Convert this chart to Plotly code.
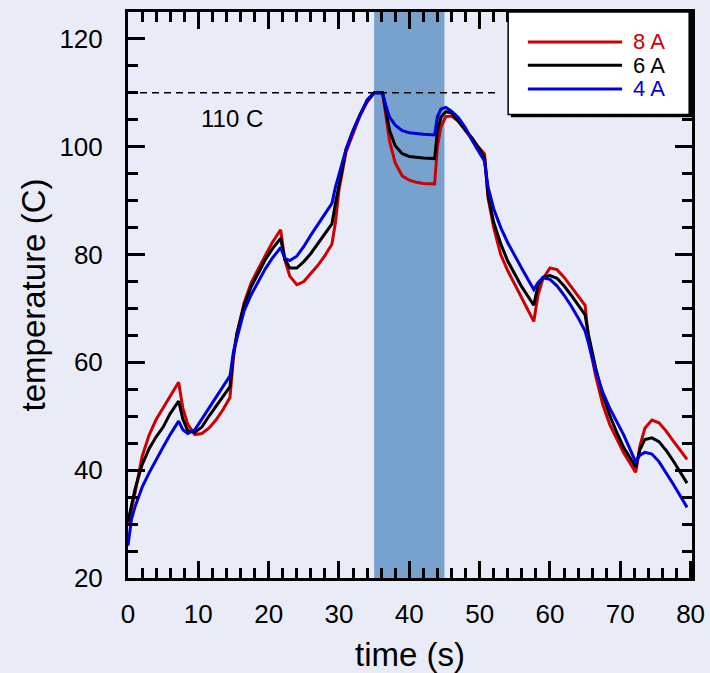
import plotly.graph_objects as go

# time (s)
t = [0, 0.5, 1, 2, 3, 4, 5, 6, 7.2, 7.8, 8.5, 9.5, 10.5, 11.5, 12.5, 13.5, 14.5,
     15, 15.5, 16.5, 17.5, 18.5, 19.5, 20.5, 21.7, 22.3, 23, 24, 25, 26, 27, 28, 29,
     29.5, 30, 31, 32, 33, 34, 35, 36.2, 36.7, 37.2, 38, 39, 40, 41, 42, 43.6,
     44, 44.5, 45.2, 46, 47, 48, 49, 50.7, 51.2, 52, 53, 54, 55, 56, 57.7,
     58.3, 59, 60, 61, 62, 63, 64, 65, 65.5, 66.5, 67.5, 68.5, 69.5, 70.5, 72.2,
     72.8, 73.5, 74.5, 75.5, 76.5, 77.5, 78.5, 79.5]

temp_8A = [30, 33, 35.8, 42.5, 46.5, 49.4, 51.5, 53.6, 56.3, 51.5, 48.5, 46.6, 46.8, 47.8, 49.3, 51.2, 53.5,
           61, 65.3, 71, 74.7, 77.3, 79.8, 82.2, 84.6, 79, 76, 74.4, 75, 76.4, 78, 79.8, 81.9,
           86, 92, 99, 102.5, 105.8, 108.3, 110, 110, 105.5, 101, 97, 94.6, 93.8, 93.4, 93.2, 93.1,
           100, 103.7, 105.6, 105.7, 104.7, 103, 101.2, 98.7, 90.5, 85, 80, 77, 74.5, 72, 67.6,
           72.5, 75.5, 77.5, 77.2, 75.8, 74, 72.3, 70.6, 64, 57.5, 52.2, 48.5, 45.8, 43.2, 39.6,
           44.5, 47.8, 49.3, 48.8, 47.3, 45.5, 43.8, 42]

temp_6A = [30.5, 33.5, 36.5, 41, 44, 46.2, 48, 50.5, 52.8, 49.5, 47.3, 47, 48, 50, 51.8, 53.7, 55.5,
           61.5, 65.5, 70.5, 74, 76.5, 79, 81, 83, 79.2, 77.5, 77.5, 78.7, 80.2, 82, 83.8, 85.7,
           89.5, 93, 99.5, 103, 106, 108.5, 110, 110, 106.5, 103, 100.2, 98.7, 98.2, 98, 97.9, 97.8,
           103, 105.5, 106.5, 106.3, 104.7, 103.2, 101.5, 98, 91, 86, 82, 78.8, 76.5, 74, 70.6,
           74.3, 75.8, 76.1, 75.6, 74.2, 72.5, 70.6, 68.8, 65, 59, 54, 50.2, 47, 44.2, 40.6,
           43.8, 45.7, 46, 45.3, 43.7, 41.8, 39.8, 37.6]

temp_4A = [26, 31, 33.2, 36.8, 39.5, 42, 44.3, 46.6, 49.1, 47.5, 46.8, 47.5, 49.5, 51.5, 53.5, 55.5, 57.5,
           62, 64.5, 69.5, 72.5, 75, 77.3, 79.3, 81.3, 79.3, 78.9, 79.7, 81.5, 83.6, 85.5, 87.5, 89.5,
           92.5, 95, 99.5, 103, 106, 108.7, 110, 110, 107.5, 105.5, 104, 103, 102.6, 102.4, 102.3, 102.2,
           105.6, 107, 107.3, 106.6, 105.4, 103.5, 101, 97.3, 92.5, 88.5, 85, 82.2, 79.7, 77.4, 73.5,
           74.8, 75.7, 75.4, 74.2, 72.5, 70.5, 68.3, 65.8, 63.5, 58.3, 54.5, 51.5, 49, 46.5, 41.5,
           42.8, 43.3, 43, 41.6, 39.6, 37.5, 35.3, 33.1]

series_names = ["8 A", "6 A", "4 A"]
series_colors = ["#cc0000", "#000000", "#0000dd"]
series_values = [temp_8A, temp_6A, temp_4A]

shade_x = [35, 45]
limit_temp = 110
limit_end_x = 52.7
limit_label = "110 C"

FONT = "Liberation Sans, Arial, sans-serif"
BG = "#e9ecf6"

L, R, T, B = 128, 18, 12, 95
FW, FH = 710, 673

fig = go.Figure()
for name, col, vals in zip(series_names, series_colors, series_values):
    fig.add_trace(go.Scatter(x=t, y=vals, mode="lines", name=name,
                             line=dict(color=col, width=3), showlegend=False))

# shaded interval
fig.add_vrect(x0=shade_x[0], x1=shade_x[1], fillcolor="rgb(120,162,206)", opacity=1,
              line_width=0, layer="below")
# 110 C limit line
fig.add_shape(type="line", x0=0, x1=limit_end_x, y0=limit_temp, y1=limit_temp,
              line=dict(color="black", width=1.5, dash="7px,5px"))
fig.add_annotation(x=14.8, y=105.3, text=limit_label, showarrow=False,
                   font=dict(size=24, color="black", family=FONT))

# manual legend, positioned as fractions of the plot area
lg_x0, lg_x1 = 0.674, 0.995       # box
lg_y0, lg_y1 = 0.819, 1.0
lg_line = (0.709, 0.876)
lg_text_x = 0.892
lg_rows = [0.947, 0.906, 0.864]
sh = 0.005
fig.add_shape(type="rect", xref="paper", yref="paper", x0=lg_x0 + sh, x1=lg_x1 + sh,
              y0=lg_y0 - sh, y1=lg_y1 - sh, fillcolor="black", line_width=0, layer="above")
fig.add_shape(type="rect", xref="paper", yref="paper", x0=lg_x0, x1=lg_x1, y0=lg_y0, y1=lg_y1,
              fillcolor="white", line=dict(color="black", width=1.5), layer="above")
for name, col, ly in zip(series_names, series_colors, lg_rows):
    fig.add_shape(type="line", xref="paper", yref="paper", x0=lg_line[0], x1=lg_line[1], y0=ly, y1=ly,
                  line=dict(color=col, width=3), layer="above")
    fig.add_annotation(xref="paper", yref="paper", x=lg_text_x, y=ly, text=name, showarrow=False,
                       xanchor="left", yanchor="middle", font=dict(size=22, color=col, family=FONT))

axis_common = dict(
    showline=True, linecolor="black", linewidth=3, mirror="allticks",
    ticks="inside", ticklen=17, tickwidth=3, tickcolor="black",
    showgrid=False, zeroline=False, ticklabeloverflow="allow",
    tickfont=dict(size=26, color="black", family=FONT),
)
fig.update_xaxes(range=[0, 80.2], tick0=0, dtick=10, ticklabelstandoff=11,
                 minor=dict(dtick=2, ticks="inside", ticklen=10, tickwidth=2.5, tickcolor="black"),
                 title=dict(text="time (s)", font=dict(size=33, color="black", family=FONT), standoff=21),
                 **axis_common)
fig.update_yaxes(range=[20, 125], tick0=20, dtick=20, ticklabelstandoff=17,
                 minor=dict(dtick=5, ticks="inside", ticklen=10, tickwidth=2.5, tickcolor="black"),
                 title=dict(text="temperature (C)", font=dict(size=33, color="black", family=FONT), standoff=4),
                 **axis_common)

fig.update_layout(width=FW, height=FH, margin=dict(l=L, r=R, t=T, b=B, autoexpand=False),
                  paper_bgcolor=BG, plot_bgcolor=BG, font=dict(family=FONT))
fig.write_html("out.html")
